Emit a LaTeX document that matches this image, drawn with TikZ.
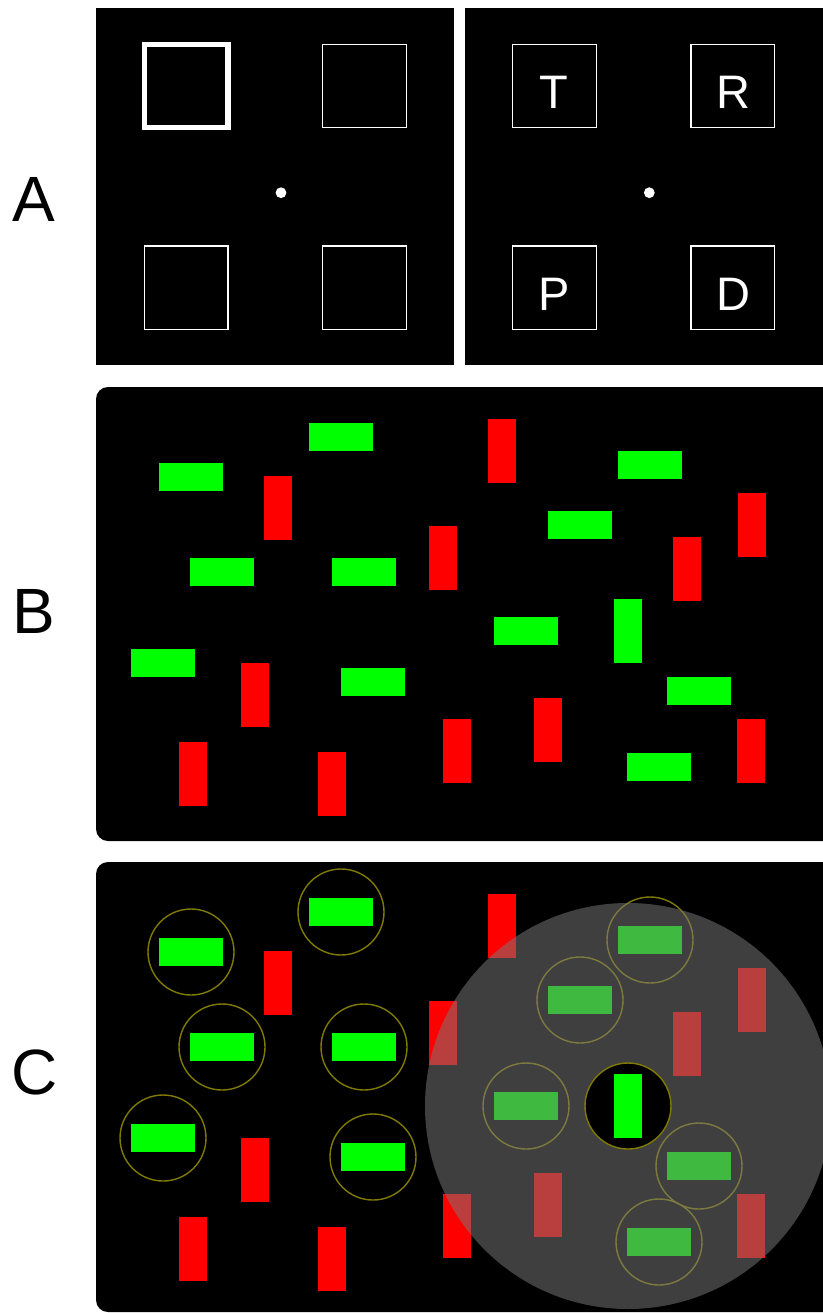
\documentclass[tikz,border=0pt]{standalone}
\usepackage{fontspec}
\setmainfont{Liberation Sans}
\usepackage{xcolor}
\usepackage{tikz}
\definecolor{panel}{HTML}{000000}
\definecolor{frame}{HTML}{FFFFFF}
\definecolor{barg}{HTML}{00FF00}
\definecolor{barr}{HTML}{FF0000}
\definecolor{ring}{HTML}{807A00}
\definecolor{veil}{HTML}{7A7A7A}
\tikzset{
  bg/.style={fill=panel},
  box/.style={draw=frame, line width=1.2pt},
  cue/.style={draw=frame, line width=5.7pt},
  fix/.style={fill=frame},
  hbar/.style={fill=barg},
  vbar/.style={fill=barr},
  halo/.style={draw=ring, line width=1.4pt},
  letter/.style={text=frame, inner sep=0pt, anchor=base, font=\fontsize{47}{47}\selectfont},
  tag/.style={text=black, inner sep=0pt, anchor=base, font=\fontsize{64}{64}\selectfont}
}
\newcommand{\GreenList}{191/477, 341/437, 650/465, 580/525, 222/572, 364/572, 526/631, 163/663, 373/682, 699/691, 659/767}
\newcommand{\DrawField}[1]{% y offset of the search display
  \foreach \x/\y in \GreenList
    \fill[hbar] (\x-32,\y+#1-13.75) rectangle ++(64,27.5);
  \foreach \x/\y in {502/451, 278/508, 752/525, 443/558, 687/569, 255/695, 548/730, 457/751, 751/751, 193/774, 332/784}
    \fill[vbar] (\x-13.75,\y+#1-32) rectangle ++(27.5,64);
  \fill[hbar] (628-13.75,631+#1-32) rectangle ++(27.5,64);
}

\begin{document}
\begin{tikzpicture}[x=1pt,y=-1pt]
  \useasboundingbox (0,0) rectangle (822,1313);

  % Panel labels
  \node[tag] (labA) at (34,222) {A};
  \node[tag] (labB) at (34,633) {B};
  \node[tag] (labC) at (35,1094) {C};

  % A: cue display
  \fill[bg] (96,8) rectangle (454,365);
  \draw[cue] (144.5,44.5) rectangle (228,127.5);
  \draw[box] (322.3,44.3) rectangle (406.3,127.7);
  \draw[box] (144.3,246) rectangle (228,329.7);
  \draw[box] (322.3,246) rectangle (406.3,329.7);
  \fill[fix] (281,192.7) circle (5.4);

  % A: response display
  \fill[bg] (465,8) rectangle (840,365);
  \draw[box] (512.7,44.3) rectangle (596.3,127.7);
  \draw[box] (691,44.3) rectangle (774.7,127.7);
  \draw[box] (512.7,246) rectangle (596.3,329.7);
  \draw[box] (691,246) rectangle (774.7,329.7);
  \fill[fix] (649.3,192.7) circle (5.4);
  \node[letter] (letT) at (554,108.3) {T};
  \node[letter] (letR) at (733.5,108.3) {R};
  \node[letter] (letP) at (554,310) {P};
  \node[letter] (letD) at (733.5,310) {D};

  % B: search display
  \fill[bg, rounded corners=12pt] (96,387) rectangle (840,841);
  \DrawField{0}

  % C: same display with rings and the crowding zone
  \fill[bg, rounded corners=12pt] (96,862) rectangle (840,1312);
  \DrawField{475}
  \foreach \x/\y in \GreenList
    \draw[halo] (\x,\y+475) circle (43);
  \fill[veil, fill opacity=0.52] (628,1106) circle (203);
  \filldraw[bg, halo] (628,1106) circle (43);
  \fill[hbar] (628-13.75,1106-32) rectangle ++(27.5,64);
\end{tikzpicture}
\end{document}
